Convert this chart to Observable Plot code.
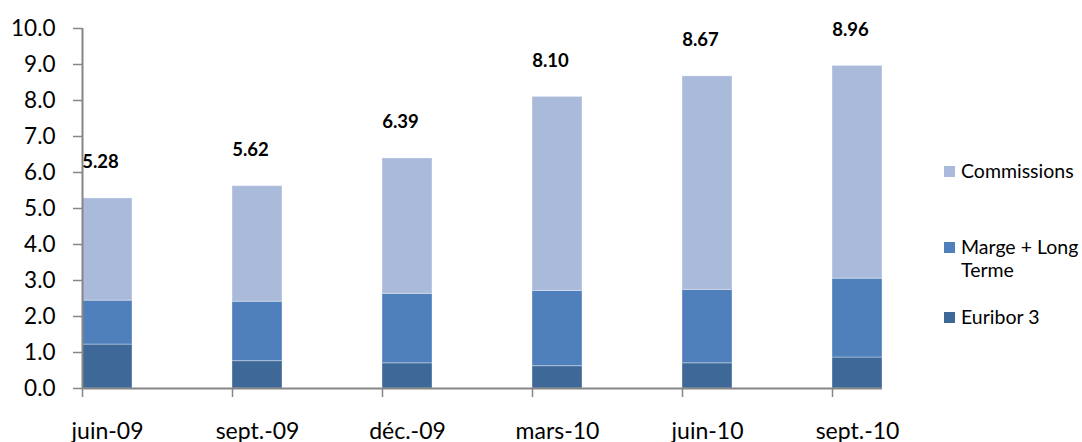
<!DOCTYPE html>
<html>
<head>
<meta charset="utf-8">
<script src="https://cdn.jsdelivr.net/npm/d3@7"></script>
<script src="https://cdn.jsdelivr.net/npm/@observablehq/plot@0.6"></script>
<style>
  html, body { margin: 0; padding: 0; background: #fff; }
  #wrap { position: relative; width: 1082px; height: 442px; font-family: Lato, "Open Sans", sans-serif; }
  #legend { position: absolute; left: 944px; top: 0; font-size: 19.5px; color: #000; }
  .item { position: absolute; left: 0; display: flex; align-items: flex-start; white-space: nowrap; }
  .sw { width: 11px; height: 11px; margin-right: 6px; flex: none; }
  .lbl { line-height: 23px; white-space: nowrap; }
  .lbl.wrap { white-space: normal; width: 122px; }
</style>
</head>
<body>
<div id="wrap"></div>
<script>
const categories = ["juin-09", "sept.-09", "déc.-09", "mars-10", "juin-10", "sept.-10"];
const seriesNames = ["Euribor 3", "Marge + Long Terme", "Commissions"];
const euribor = [1.22, 0.76, 0.70, 0.62, 0.70, 0.86];
const marge = [1.22, 1.65, 1.93, 2.09, 2.04, 2.19];
const commissions = [2.84, 3.21, 3.76, 5.39, 5.93, 5.91];
const totals = [5.28, 5.62, 6.39, 8.10, 8.67, 8.96];
const yTicks = [0, 1, 2, 3, 4, 5, 6, 7, 8, 9, 10];
const seriesColors = ["#3E6898", "#4F80BC", "#AABADA"];

const seriesValues = [euribor, marge, commissions];
const rows = [];
categories.forEach((c, i) => {
  seriesNames.forEach((s, k) => rows.push({i, category: c, series: s, value: seriesValues[k][i]}));
});
const totalRows = categories.map((c, i) => ({i, category: c, total: totals[i]}));
const barW = 1 / 3;
const gray = "#868686";

const chart = Plot.plot({
  width: 1082,
  height: 442,
  marginLeft: 82,
  marginRight: 200,
  marginTop: 28,
  marginBottom: 54,
  style: {fontFamily: "Lato, 'Open Sans', sans-serif", background: "#fff", overflow: "visible"},
  x: {type: "linear", domain: [0, categories.length - 1 + barW], axis: null},
  y: {domain: [0, 10], axis: null},
  color: {domain: seriesNames, range: seriesColors},
  marks: [
    Plot.rectY(rows, {
      x1: "i", x2: d => d.i + barW, y: "value", fill: "series",
      stroke: "#fff", strokeOpacity: 0.35, strokeWidth: 1
    }),
    Plot.axisY({ticks: yTicks, tickFormat: d => d.toFixed(1), tickSize: 9, tickPadding: 18,
      fontSize: 22.5, stroke: gray, fill: "#000", strokeWidth: 1.5, label: null}),
    Plot.axisX({ticks: categories.map((c, i) => i), tickSize: 9, tickFormat: () => "",
      stroke: gray, strokeWidth: 1.5, label: null}),
    Plot.ruleX([0], {y1: 0, y2: 10, stroke: gray, strokeWidth: 2}),
    Plot.ruleY([0], {stroke: gray, strokeWidth: 2}),
    Plot.text(totalRows, {x: d => d.i + barW / 2, y: 0, text: "category", dy: 43,
      fontSize: 23, fill: "#000"}),
    Plot.text(totalRows, {x: d => d.i + barW / 2, y: "total", text: d => d.total.toFixed(2),
      dx: -7, dy: -36, fontSize: 18.5, fontWeight: "bold", fill: "#000"})
  ]
});

const wrap = document.getElementById("wrap");
wrap.appendChild(chart);

const legend = document.createElement("div");
legend.id = "legend";
const legendOrder = ["Commissions", "Marge + Long Terme", "Euribor 3"];
const legendTops = [159, 235, 305];
legendOrder.forEach((name, k) => {
  const item = document.createElement("div");
  item.className = "item";
  item.style.top = legendTops[k] + "px";
  const sw = document.createElement("div");
  sw.className = "sw";
  sw.style.background = seriesColors[seriesNames.indexOf(name)];
  sw.style.marginTop = "7px";
  const lbl = document.createElement("div");
  lbl.className = name === "Marge + Long Terme" ? "lbl wrap" : "lbl";
  lbl.textContent = name;
  item.appendChild(sw);
  item.appendChild(lbl);
  legend.appendChild(item);
});
wrap.appendChild(legend);
</script>
</body>
</html>
